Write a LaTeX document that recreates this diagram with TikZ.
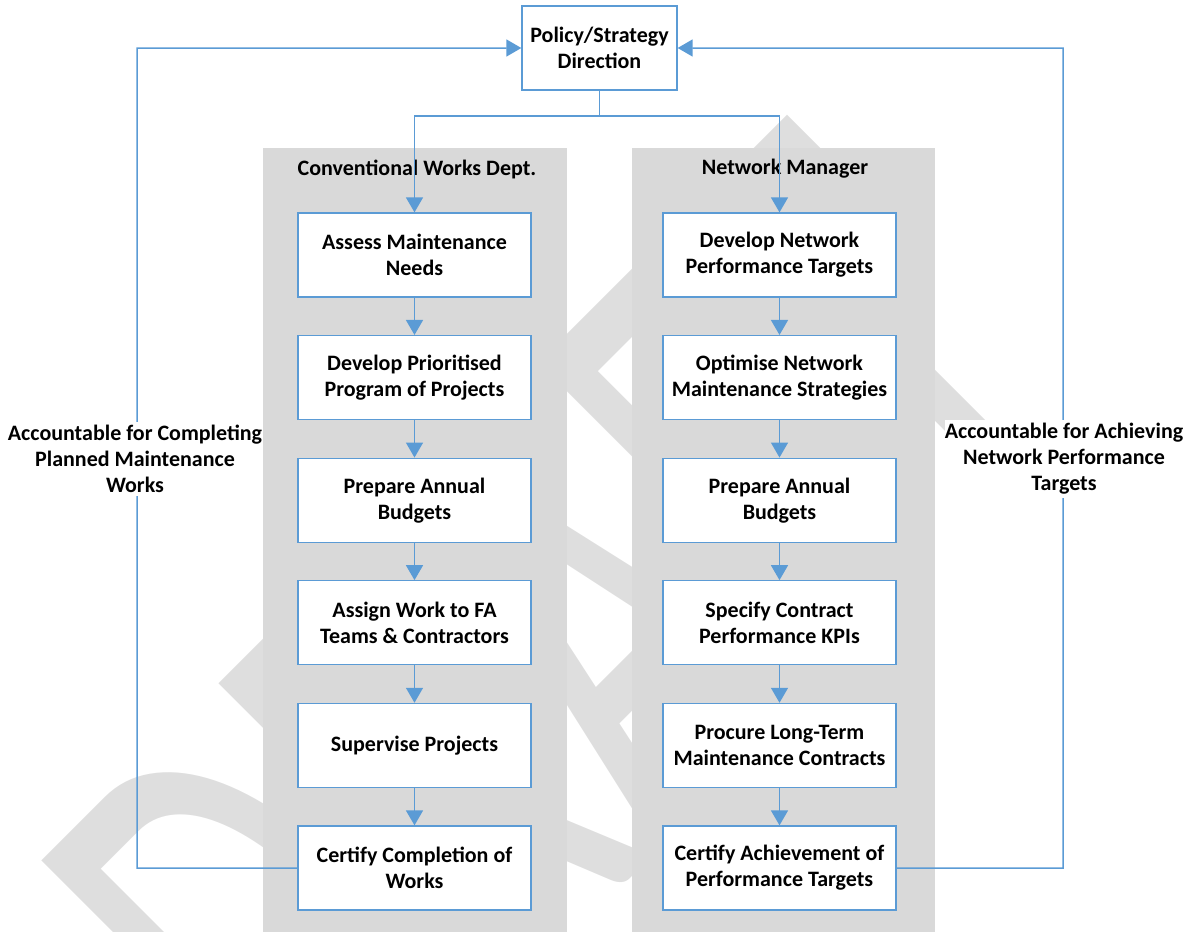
\documentclass[tikz,border=0pt]{standalone}
\usepackage{fontspec}
\setmainfont{Carlito}
\usetikzlibrary{arrows.meta}
\definecolor{flowblue}{HTML}{5B9BD5}
\definecolor{lanegray}{HTML}{D9D9D9}
\definecolor{markgray}{HTML}{DEDEDE}
\begin{document}
\begin{tikzpicture}[x=1pt,y=-1pt,
  lane/.style={fill=lanegray,draw=none},
  lanetitle/.style={inner sep=0pt,font=\fontsize{22}{26}\selectfont\bfseries},
  stepbox/.style={draw=flowblue,line width=1.3pt,fill=white,
    minimum width=233pt,minimum height=84pt,inner sep=0pt,align=center,
    font=\fontsize{22}{26}\selectfont\bfseries},
  topbox/.style={stepbox,minimum width=155pt},
  note/.style={fill=white,inner xsep=0pt,inner ysep=3pt,align=center,
    font=\fontsize{22}{26}\selectfont\bfseries},
  link/.style={draw=flowblue,line width=1.5pt},
  flow/.style={link,-{Triangle[width=17pt,length=15pt]}}]
\useasboundingbox (0,0) rectangle (1195,932);
\clip (0,0) rectangle (1195,932);

% watermark, stretched upright
\node[rotate=45,yscale=1.65,anchor=north west,inner sep=0pt,text=markgray,
  font=\fontsize{405}{405}\selectfont] (mark) at (22,880) {DRAFT};

% swim lanes
\path[lane] (263,148) rectangle (567,932);
\path[lane] (632,148) rectangle (935,932);
\node[lanetitle] (lt1) at (417,169) {Conventional Works Dept.};
\node[lanetitle] (lt2) at (785,169) {Network Manager};

% top node
\node[topbox] (pol) at (599.5,48) {Policy/Strategy\\Direction};

% left column
\foreach \n/\t [count=\i from 0] in {
  a1/{Assess Maintenance\\Needs},
  a2/{Develop Prioritised\\Program of Projects},
  a3/{Prepare Annual\\Budgets},
  a4/{Assign Work to FA\\Teams \& Contractors},
  a5/{Supervise Projects},
  a6/{Certify Completion of\\Works}}
  \node[stepbox] (\n) at (414.5,255+122.6*\i) {\t};

% right column
\foreach \n/\t [count=\i from 0] in {
  b1/{Develop Network\\Performance Targets},
  b2/{Optimise Network\\Maintenance Strategies},
  b3/{Prepare Annual\\Budgets},
  b4/{Specify Contract\\Performance KPIs},
  b5/{Procure Long-Term\\Maintenance Contracts},
  b6/{Certify Achievement of\\Performance Targets}}
  \node[stepbox] (\n) at (779.5,255+122.6*\i) {\t};

% distribution from the top node
\coordinate (split) at (599.5,116);
\draw[link] (pol.south) -- (split);
\draw[flow] (split) -| (a1.north);
\draw[flow] (split) -| (b1.north);

% column flows
\foreach \p/\q in {a1/a2,a2/a3,a3/a4,a4/a5,a5/a6,b1/b2,b2/b3,b3/b4,b4/b5,b5/b6}
  \draw[flow] (\p.south) -- (\q.north);

% accountability loops
\coordinate (lturn) at (137,868);
\coordinate (rturn) at (1063,868);
\draw[flow] (a6.west) -- (lturn) |- (pol.west);
\draw[flow] (b6.east) -- (rturn) |- (pol.east);
\node[note] (lnote) at (135,459) {Accountable for Completing\\Planned Maintenance\\Works};
\node[note] (rnote) at (1064,459) {Accountable for Achieving\\Network Performance\\Targets};
\end{tikzpicture}
\end{document}
